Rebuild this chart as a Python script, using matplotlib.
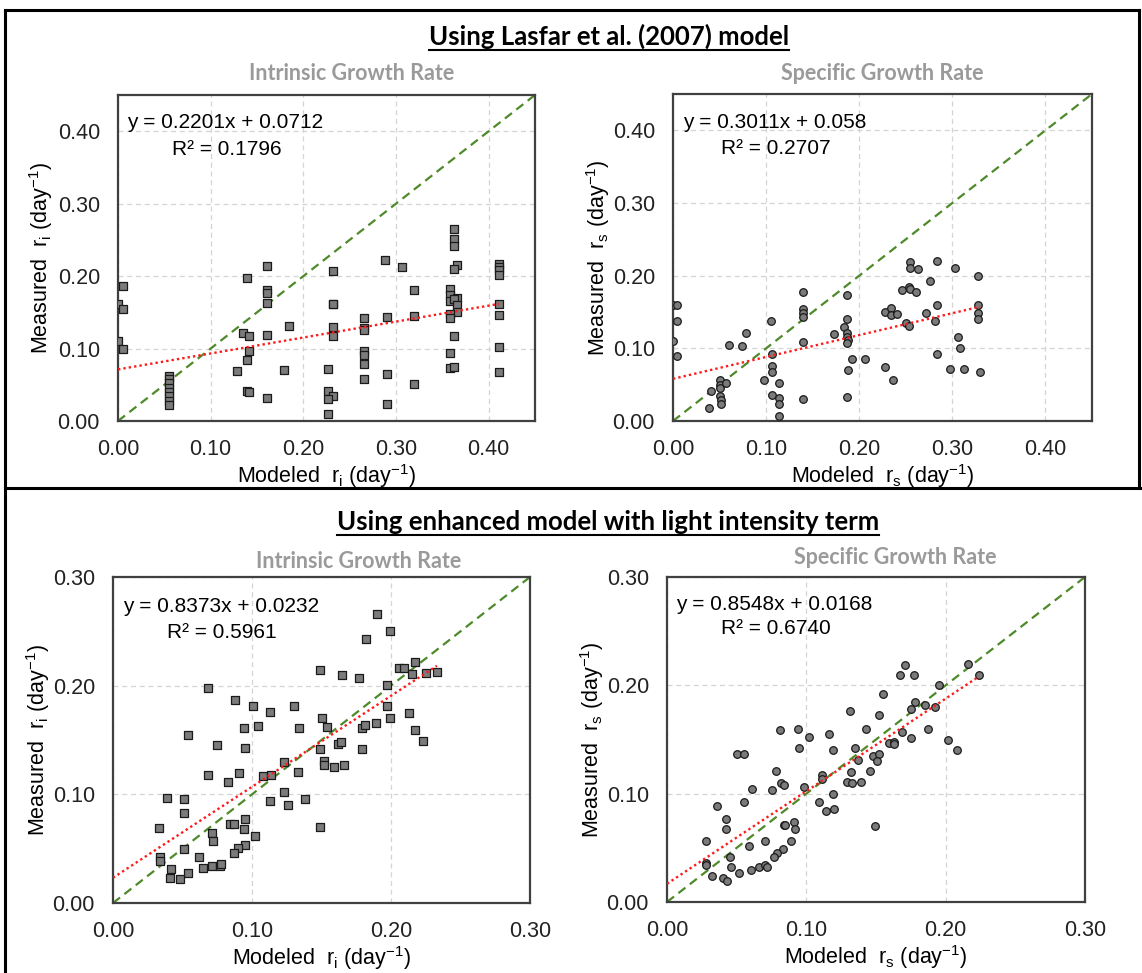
import matplotlib
matplotlib.use('Agg')
import matplotlib.pyplot as plt
from matplotlib.lines import Line2D

plt.rcParams['font.family'] = ['Liberation Sans', 'DejaVu Sans']
plt.rcParams['mathtext.fontset'] = 'custom'
plt.rcParams['mathtext.rm'] = 'Liberation Sans'
plt.rcParams['mathtext.it'] = 'Liberation Sans:italic'

W, H = 1142, 973

# Lasfar et al. (2007) model - intrinsic growth rate
lasfar_ri_mod = [0.005, 0.000, 0.005, 0.000, 0.005,
                 0.055, 0.055, 0.055, 0.055, 0.055, 0.055, 0.055, 0.055,
                 0.139, 0.161, 0.161, 0.161, 0.161, 0.135, 0.141, 0.161, 0.185, 0.141,
                 0.139, 0.128, 0.179, 0.139, 0.141, 0.161,
                 0.232, 0.232, 0.232, 0.232, 0.232, 0.227, 0.227, 0.232, 0.227, 0.227,
                 0.266, 0.266, 0.266, 0.266, 0.266, 0.266, 0.266,
                 0.288, 0.290, 0.290, 0.290, 0.307, 0.319, 0.319, 0.319,
                 0.363, 0.363, 0.363, 0.366, 0.363, 0.358, 0.358, 0.366, 0.358, 0.363,
                 0.366, 0.366, 0.358, 0.358, 0.363, 0.358, 0.358, 0.363,
                 0.411, 0.411, 0.411, 0.411, 0.411, 0.411, 0.411, 0.411]
lasfar_ri_meas = [0.186, 0.161, 0.155, 0.110, 0.099,
                  0.062, 0.058, 0.052, 0.046, 0.040, 0.034, 0.028, 0.022,
                  0.197, 0.214, 0.181, 0.176, 0.163, 0.121, 0.118, 0.119, 0.131, 0.097,
                  0.084, 0.069, 0.070, 0.042, 0.040, 0.032,
                  0.207, 0.162, 0.161, 0.130, 0.118, 0.072, 0.042, 0.035, 0.031, 0.009,
                  0.142, 0.128, 0.125, 0.097, 0.091, 0.078, 0.058,
                  0.222, 0.143, 0.065, 0.023, 0.212, 0.181, 0.145, 0.051,
                  0.265, 0.251, 0.242, 0.215, 0.210, 0.182, 0.174, 0.170, 0.166, 0.169,
                  0.160, 0.150, 0.148, 0.142, 0.118, 0.094, 0.073, 0.074,
                  0.217, 0.213, 0.208, 0.201, 0.161, 0.146, 0.102, 0.068]

# Lasfar et al. (2007) model - specific growth rate
lasfar_rs_mod = [0.000, 0.004, 0.004, 0.000, 0.004,
                 0.050, 0.050, 0.050, 0.057, 0.041, 0.051, 0.052, 0.052, 0.039,
                 0.060, 0.074, 0.078,
                 0.105, 0.106, 0.106, 0.106, 0.098, 0.114, 0.106, 0.114, 0.114, 0.114,
                 0.140, 0.140, 0.140, 0.140, 0.140, 0.140,
                 0.187, 0.187, 0.184, 0.187, 0.187, 0.188, 0.187, 0.173, 0.192, 0.206,
                 0.188, 0.187,
                 0.228, 0.234, 0.234, 0.241, 0.228, 0.236,
                 0.246, 0.253, 0.255, 0.261, 0.255, 0.255, 0.263, 0.250, 0.253,
                 0.272, 0.276, 0.284, 0.284, 0.281, 0.284,
                 0.303, 0.306, 0.308, 0.297, 0.312,
                 0.328, 0.328, 0.328, 0.328, 0.330]
lasfar_rs_meas = [0.160, 0.160, 0.137, 0.110, 0.090,
                  0.056, 0.049, 0.045, 0.052, 0.041, 0.035, 0.029, 0.024, 0.018,
                  0.104, 0.103, 0.121,
                  0.137, 0.092, 0.076, 0.068, 0.057, 0.052, 0.036, 0.032, 0.024, 0.007,
                  0.177, 0.154, 0.149, 0.143, 0.109, 0.030,
                  0.173, 0.141, 0.130, 0.121, 0.116, 0.111, 0.107, 0.120, 0.086, 0.085,
                  0.070, 0.033,
                  0.150, 0.156, 0.146, 0.147, 0.075, 0.056,
                  0.180, 0.185, 0.182, 0.177, 0.219, 0.210, 0.209, 0.135, 0.131,
                  0.149, 0.192, 0.220, 0.160, 0.137, 0.092,
                  0.210, 0.115, 0.100, 0.071, 0.072,
                  0.200, 0.160, 0.149, 0.140, 0.067]

# Enhanced model - intrinsic growth rate
enh_ri_mod = [0.190, 0.199, 0.182, 0.217, 0.206, 0.209, 0.215, 0.225, 0.233,
              0.149, 0.165, 0.177, 0.197, 0.068, 0.088, 0.101, 0.113, 0.130,
              0.197, 0.199, 0.213, 0.217, 0.223, 0.150, 0.154, 0.179, 0.181,
              0.189, 0.179, 0.134, 0.104, 0.094, 0.095, 0.075, 0.054, 0.162,
              0.164, 0.149, 0.123, 0.152, 0.152, 0.159, 0.166, 0.133, 0.108,
              0.114, 0.091, 0.068, 0.083, 0.123, 0.113, 0.126, 0.138, 0.149,
              0.039, 0.051, 0.051, 0.033, 0.095, 0.084, 0.087, 0.094, 0.102,
              0.071, 0.072, 0.051, 0.095, 0.090, 0.087, 0.034, 0.034, 0.062,
              0.042, 0.065, 0.071, 0.077, 0.078, 0.054, 0.041, 0.048]
enh_ri_meas = [0.266, 0.250, 0.243, 0.222, 0.216, 0.216, 0.211, 0.212, 0.213,
               0.214, 0.210, 0.207, 0.201, 0.198, 0.187, 0.181, 0.176, 0.181,
               0.181, 0.170, 0.175, 0.159, 0.149, 0.170, 0.162, 0.161, 0.164,
               0.166, 0.142, 0.161, 0.163, 0.161, 0.143, 0.145, 0.155, 0.146,
               0.148, 0.142, 0.130, 0.131, 0.127, 0.125, 0.127, 0.121, 0.117,
               0.118, 0.120, 0.118, 0.111, 0.102, 0.094, 0.090, 0.096, 0.070,
               0.097, 0.096, 0.083, 0.069, 0.077, 0.073, 0.073, 0.068, 0.062,
               0.064, 0.057, 0.050, 0.053, 0.051, 0.046, 0.042, 0.039, 0.042,
               0.031, 0.032, 0.034, 0.034, 0.036, 0.028, 0.023, 0.022]

# Enhanced model - specific growth rate
enh_rs_mod = [0.171, 0.167, 0.177, 0.216, 0.224, 0.195, 0.155, 0.178, 0.185,
              0.192, 0.175, 0.131, 0.152, 0.143, 0.169, 0.187, 0.175, 0.159,
              0.163, 0.163, 0.202, 0.208, 0.081, 0.094, 0.102, 0.116, 0.095,
              0.119, 0.135, 0.050, 0.055, 0.148, 0.152, 0.151, 0.137, 0.078,
              0.111, 0.111, 0.132, 0.146, 0.129, 0.133, 0.139, 0.082, 0.084,
              0.061, 0.075, 0.098, 0.119, 0.109, 0.114, 0.120, 0.149, 0.036,
              0.055, 0.042, 0.042, 0.028, 0.091, 0.084, 0.085, 0.092, 0.059,
              0.070, 0.089, 0.083, 0.079, 0.077, 0.045, 0.028, 0.028, 0.046,
              0.060, 0.066, 0.070, 0.072, 0.052, 0.032, 0.040, 0.043]
enh_rs_meas = [0.219, 0.210, 0.210, 0.220, 0.210, 0.200, 0.192, 0.185, 0.182,
               0.180, 0.178, 0.176, 0.173, 0.160, 0.157, 0.160, 0.151, 0.147,
               0.148, 0.146, 0.150, 0.140, 0.159, 0.160, 0.152, 0.155, 0.142,
               0.140, 0.142, 0.137, 0.137, 0.135, 0.137, 0.130, 0.131, 0.121,
               0.117, 0.114, 0.120, 0.121, 0.111, 0.110, 0.111, 0.110, 0.108,
               0.104, 0.103, 0.106, 0.100, 0.092, 0.084, 0.086, 0.070, 0.089,
               0.092, 0.077, 0.067, 0.056, 0.074, 0.071, 0.071, 0.067, 0.052,
               0.056, 0.056, 0.049, 0.045, 0.042, 0.042, 0.036, 0.034, 0.032,
               0.030, 0.032, 0.034, 0.032, 0.027, 0.024, 0.022, 0.019]

# trendline coefficients (slope, intercept, R²) as printed on the chart
fits = {
    'lasfar_ri': (0.2201, 0.0712, '0.2201x + 0.0712', '0.1796'),
    'lasfar_rs': (0.3011, 0.058, '0.3011x + 0.058', '0.2707'),
    'enh_ri': (0.8373, 0.0232, '0.8373x + 0.0232', '0.5961'),
    'enh_rs': (0.8548, 0.0168, '0.8548x + 0.0168', '0.6740'),
}


def px_axes(l, t, r, b):
    return fig.add_axes([l / W, 1 - b / H, (r - l) / W, (b - t) / H])


def ftext(x, y, s, **kw):
    return fig.text(x / W, 1 - y / H, s, **kw)


def panel(ax, xs, ys, marker, fit, lim, ticks, sub):
    slope, icpt, eq, r2 = fit
    ax.set_xlim(0, lim)
    ax.set_ylim(0, lim)
    ax.set_xticks(ticks)
    ax.set_yticks(ticks)
    ax.set_xticklabels(['%.2f' % t for t in ticks])
    ax.set_yticklabels(['%.2f' % t for t in ticks])
    ax.tick_params(length=0, labelsize=15.5, pad=13, colors='#222222')
    ax.grid(True, color='#d4d4d4', linestyle=(0, (4, 3)), linewidth=0.9)
    ax.set_axisbelow(True)
    for s in ax.spines.values():
        s.set_color('#404040')
        s.set_linewidth(1.6)
    ax.plot([0, lim], [0, lim], color='#4e8a2a', linestyle=(0, (4, 2.5)), linewidth=1.6, zorder=2)
    xm = max(xs)
    ax.plot([0, xm], [icpt, slope * xm + icpt], color='#ff1a1a', linestyle=(0, (1, 1.3)),
            linewidth=1.7, zorder=4)
    ax.scatter(xs, ys, marker=marker, s=30 if marker == 'o' else 27, facecolor='#7b7b7b',
               edgecolor='#1a1a1a', linewidth=0.9, zorder=3)
    ax.set_xlabel('Modeled  r$_\\mathregular{%s}$ (day$^\\mathregular{-1}$)' % sub, fontsize=15.5)
    ax.set_ylabel('Measured  r$_\\mathregular{%s}$ (day$^\\mathregular{-1}$)' % sub, fontsize=15.5)


fig = plt.figure(figsize=(W / 100, H / 100), dpi=100)

# outer frame and divider
fig.add_artist(Line2D([5 / W, 5 / W], [0, 1 - 10 / H], color='black', lw=2.2))
fig.add_artist(Line2D([1139 / W, 1139 / W], [1 - 488 / H, 1 - 10 / H], color='black', lw=2.2))
fig.add_artist(Line2D([5 / W, 1139 / W], [1 - 10 / H, 1 - 10 / H], color='black', lw=2.2))
fig.add_artist(Line2D([5 / W, 1142 / W], [1 - 488 / H, 1 - 488 / H], color='black', lw=2.2))

ax1 = px_axes(118, 95, 535, 421)
ax2 = px_axes(673, 94, 1092, 421)
ax3 = px_axes(113, 577, 530, 903)
ax4 = px_axes(667, 577, 1085, 902)

big = [0.0, 0.1, 0.2, 0.3, 0.4]
small = [0.0, 0.1, 0.2, 0.3]
panel(ax1, lasfar_ri_mod, lasfar_ri_meas, 's', fits['lasfar_ri'], 0.45, big, 'i')
panel(ax2, lasfar_rs_mod, lasfar_rs_meas, 'o', fits['lasfar_rs'], 0.45, big, 's')
panel(ax3, enh_ri_mod, enh_ri_meas, 's', fits['enh_ri'], 0.30, small, 'i')
panel(ax4, enh_rs_mod, enh_rs_meas, 'o', fits['enh_rs'], 0.30, small, 's')

for ax, yl in ((ax1, -0.151), (ax2, -0.146), (ax3, -0.146), (ax4, -0.146)):
    ax.xaxis.set_label_coords(0.5, -0.125)
    ax.yaxis.set_label_coords(yl, 0.5)

# equations
eq_pos = [('lasfar_ri', 127, 123, 172, 149),
          ('lasfar_rs', 683, 123, 721, 148),
          ('enh_ri', 123, 606, 167, 632),
          ('enh_rs', 676, 604, 721, 629)]
for key, x1, y1, x2, y2 in eq_pos:
    ftext(x1, y1, 'y = ' + fits[key][2], fontsize=15, va='center', ha='left')
    ftext(x2, y2, 'R² = ' + fits[key][3], fontsize=15, va='center', ha='left')

# titles (underlined)
head = dict(family='Lato', weight='bold', ha='center', va='baseline', color='black', fontsize=18.5)
titles = [ftext(609, 45, 'Using Lasfar et al. (2007) model', **head),
          ftext(608, 530, 'Using enhanced model with light intensity term', **head)]
fig.canvas.draw()
inv = fig.transFigure.inverted()
for t, uy in zip(titles, (50, 535)):
    bb = t.get_window_extent().transformed(inv)
    fig.add_artist(Line2D([bb.x0, bb.x1], [1 - uy / H, 1 - uy / H], color='black', lw=1.5))

sub = dict(family='Lato', weight='bold', ha='center', va='center', color='#9a9a9a', fontsize=15.5)
ftext(352, 74, 'Intrinsic Growth Rate', **sub)
ftext(882, 74, 'Specific Growth Rate', **sub)
ftext(359, 561, 'Intrinsic Growth Rate', **sub)
ftext(895, 558, 'Specific Growth Rate', **sub)

fig.savefig('out.png', dpi=100, facecolor='white')
